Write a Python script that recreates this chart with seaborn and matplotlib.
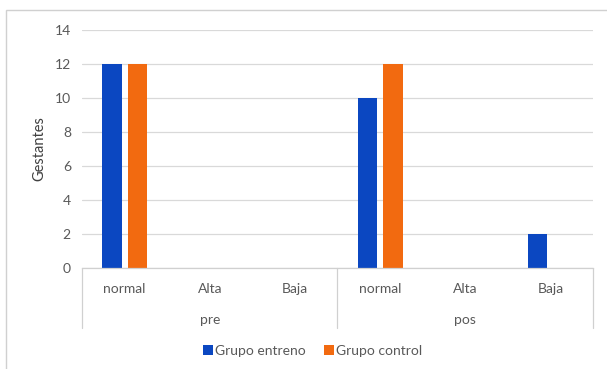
import matplotlib
matplotlib.use("Agg")
import matplotlib.pyplot as plt
from matplotlib.patches import Rectangle
from matplotlib.lines import Line2D
import seaborn as sns
import pandas as pd

periods = ["pre", "pos"]
levels = ["normal", "Alta", "Baja"]
groups = ["Grupo entreno", "Grupo control"]
entreno = [12, 0, 0, 10, 0, 2]
control = [12, 0, 0, 12, 0, 0]
yticks = [0, 2, 4, 6, 8, 10, 12, 14]

colors = {"Grupo entreno": "#0b47c1", "Grupo control": "#f26a10"}

keys = [f"{p}|{l}" for p in periods for l in levels]
df = pd.DataFrame({
    "cat": keys * 2,
    "grupo": [groups[0]] * len(keys) + [groups[1]] * len(keys),
    "valor": entreno + control,
})

sns.set_theme(style="white")
plt.rcParams["font.family"] = ["Lato", "DejaVu Sans"]
text_color = "#595959"
fs = 10

fig = plt.figure(figsize=(6.07, 3.69), dpi=100)
ax = fig.add_axes([82 / 607, 1 - 268 / 369, 511 / 607, 238 / 369])

sns.barplot(data=df, x="cat", y="valor", hue="grupo", order=keys,
            hue_order=groups, palette=colors, width=0.598, gap=0.235,
            linewidth=0, saturation=1, ax=ax, legend=False)

ax.set_ylim(0, 14)
ax.set_xlim(-0.5, len(keys) - 0.5)
ax.set_yticks(yticks)
ax.set_yticklabels([str(v) for v in yticks], fontsize=fs, color=text_color)
ax.yaxis.grid(True, color="#d9d9d9", linewidth=0.9)
ax.set_axisbelow(True)
ax.tick_params(axis="y", length=0, pad=8)
ax.set_xticks([])
ax.set_xlabel("")
ax.set_ylabel("Gestantes", fontsize=10.5, color="#404040", labelpad=6)
for side in ["top", "right", "left"]:
    ax.spines[side].set_visible(False)
ax.spines["bottom"].set_color("#d0d0d0")
ax.spines["bottom"].set_linewidth(0.9)

# Two-level category axis drawn below the plot
trans = ax.get_xaxis_transform()
for i, k in enumerate(keys):
    ax.text(i, -0.088, k.split("|")[1], transform=trans, ha="center",
            va="center", fontsize=fs, color=text_color, clip_on=False)
for j, p in enumerate(periods):
    ax.text(j * 3 + 1, -0.218, p, transform=trans, ha="center",
            va="center", fontsize=fs, color=text_color, clip_on=False)
for xv in [-0.5, 2.5, 5.5]:
    ax.add_line(Line2D([xv, xv], [0, -0.252], transform=trans,
                       color="#d0d0d0", linewidth=0.9, clip_on=False))

# Legend
handles = [Line2D([], [], marker="s", linestyle="none", markersize=7,
                  markerfacecolor=colors[g], markeredgewidth=0, label=g)
           for g in groups]
leg = fig.legend(handles=handles, loc="center", bbox_to_anchor=(312 / 607, 1 - 351 / 369),
                 ncol=2, frameon=False, fontsize=fs, handletextpad=0.05,
                 columnspacing=1.2, handlelength=0.9)
for t in leg.get_texts():
    t.set_color(text_color)

# Chart area border
fig.patches.append(Rectangle((6 / 607, -0.05), 1.0, 1 - 10 / 369 + 0.05,
                             transform=fig.transFigure, fill=False,
                             edgecolor="#d0d0d0", linewidth=1.0))

fig.savefig("out.png", dpi=100)
